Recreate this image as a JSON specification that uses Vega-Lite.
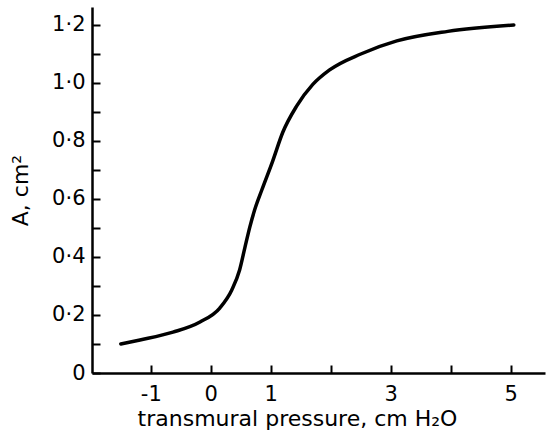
{
  "$schema": "https://vega.github.io/schema/vega-lite/v6.json",
  "autosize": {"type": "none"},
  "padding": {"left": 92, "top": 7, "right": 2, "bottom": 63},
  "width": 453,
  "height": 366,
  "background": "white",
  "config": {
    "view": {"stroke": null},
    "font": "DejaVu Sans",
    "axis": {
      "domainColor": "black", "domainWidth": 2.5,
      "tickColor": "black", "tickWidth": 2, "tickSize": -8,
      "labelColor": "black", "labelFont": "DejaVu Sans", "labelFontSize": 21,
      "titleColor": "black", "titleFont": "DejaVu Sans", "titleFontSize": 22, "titleFontWeight": "normal",
      "grid": false
    }
  },
  "data": {"values": [
    {"p": -1.5, "a": 0.10},
    {"p": -1.18, "a": 0.114},
    {"p": -0.63, "a": 0.141},
    {"p": -0.18, "a": 0.176},
    {"p": 0.15, "a": 0.224},
    {"p": 0.35, "a": 0.286},
    {"p": 0.48, "a": 0.355},
    {"p": 0.57, "a": 0.434},
    {"p": 0.65, "a": 0.503},
    {"p": 0.73, "a": 0.562},
    {"p": 0.85, "a": 0.631},
    {"p": 1.03, "a": 0.73},
    {"p": 1.2, "a": 0.83},
    {"p": 1.43, "a": 0.92},
    {"p": 1.70, "a": 0.995},
    {"p": 1.98, "a": 1.045},
    {"p": 2.5, "a": 1.10},
    {"p": 3.1, "a": 1.145},
    {"p": 3.95, "a": 1.178},
    {"p": 5.05, "a": 1.2}
  ]},
  "mark": {"type": "line", "color": "black", "strokeWidth": 3.5, "interpolate": "monotone", "strokeCap": "round"},
  "encoding": {
    "x": {
      "field": "p", "type": "quantitative",
      "scale": {"domain": [-1.98, 5.57], "nice": false, "zero": false},
      "axis": {
        "values": [-1, 0, 1, 2, 3, 4, 5],
        "labelExpr": "datum.value == -1 ? '-1' : (indexof([0, 1, 3, 5], datum.value) >= 0 ? datum.label : '')",
        "labelPadding": 18,
        "title": "transmural pressure, cm  H₂O",
        "titlePadding": 4,
        "titleX": 205
      }
    },
    "y": {
      "field": "a", "type": "quantitative",
      "scale": {"domain": [0, 1.262], "nice": false},
      "axis": {
        "values": [0, 0.1, 0.2, 0.3, 0.4, 0.5, 0.6, 0.7, 0.8, 0.9, 1.0, 1.1, 1.2],
        "labelExpr": "datum.value == 0 ? '0' : (round(datum.value * 10) % 2 == 1 ? '' : replace(format(datum.value, '.1f'), '.', '·'))",
        "labelPadding": 15,
        "title": "A, cm²",
        "titleX": -60
      }
    }
  }
}
